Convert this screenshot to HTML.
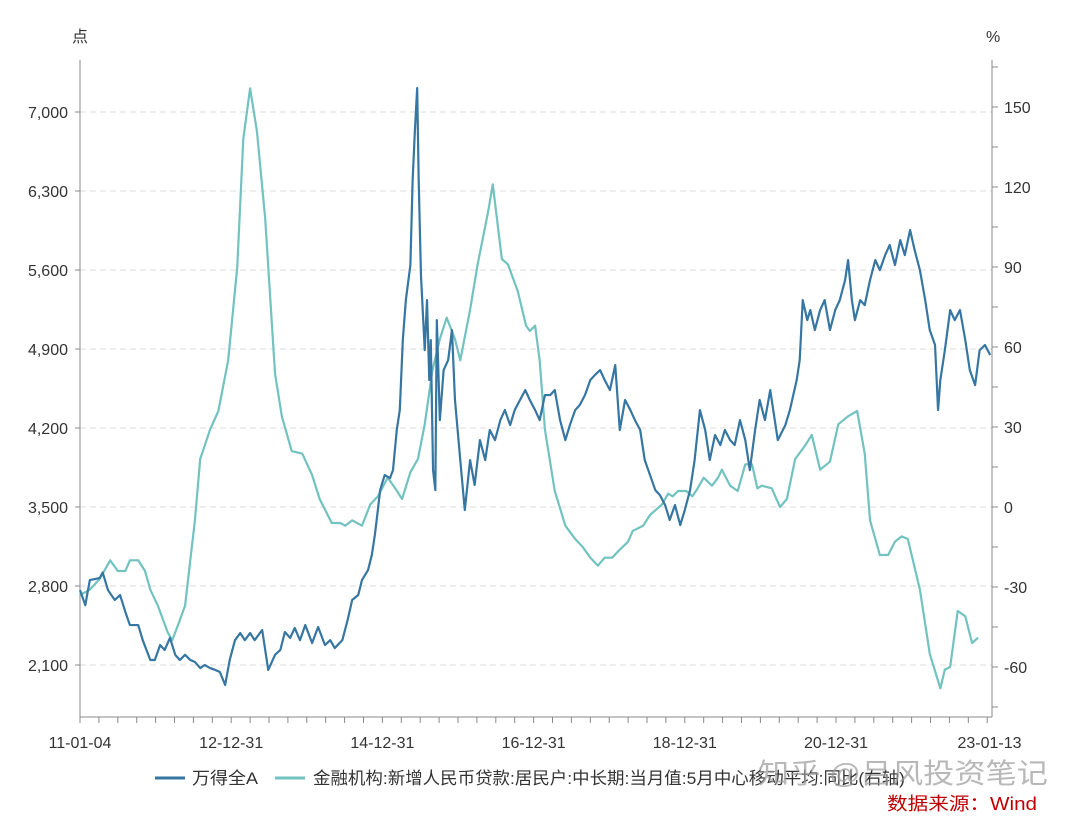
<!DOCTYPE html>
<html><head><meta charset="utf-8"><style>
html,body{margin:0;padding:0;background:#fff;}
svg{display:block;font-family:"Liberation Sans","Noto Sans CJK SC",sans-serif;}
</style></head><body>
<svg id="chart" width="1076" height="816" viewBox="0 0 1076 816" xmlns="http://www.w3.org/2000/svg">
<g id="grid"></g>
<g id="axes"></g>
<g id="series"></g>
<text x="72" y="42" font-size="16" fill="#333">点</text>
<text x="986" y="42" font-size="16" fill="#333">%</text>
<g>
<g><line x1="155" y1="778" x2="185" y2="778" stroke="#3676a2" stroke-width="3"/><text x="192" y="784" font-size="17" fill="#333" textLength="66" lengthAdjust="spacingAndGlyphs">万得全A</text></g>
<g><line x1="275" y1="778" x2="305" y2="778" stroke="#72c2c0" stroke-width="3"/><text x="313" y="784" font-size="17" fill="#333" textLength="592" lengthAdjust="spacingAndGlyphs">金融机构:新增人民币贷款:居民户:中长期:当月值:5月中心移动平均:同比(右轴)</text></g>
</g>
<text x="758" y="783" font-size="28" fill="#9a9a9a" fill-opacity="0.7" textLength="290" lengthAdjust="spacingAndGlyphs">知乎 @吕风投资笔记</text>
<text x="887" y="810" font-size="18" fill="#c00000" textLength="150" lengthAdjust="spacingAndGlyphs">数据来源：Wind</text>
</svg>
<script>
const blueT=[0,.07,.13,.26,.30,.37,.46,.53,.60,.66,.77,.83,.93,.99,1.06,1.12,1.19,1.26,1.32,1.39,1.46,1.52,1.59,1.65,1.72,1.79,1.85,1.92,1.98,2.05,2.12,2.18,2.25,2.31,2.41,2.49,2.58,2.65,2.71,2.78,2.84,2.91,2.98,3.07,3.15,3.24,3.31,3.37,3.47,3.54,3.60,3.68,3.73,3.81,3.86,3.90,3.94,3.97,4.03,4.10,4.14,4.19,4.23,4.27,4.31,4.37,4.40,4.43,4.46,4.48,4.51,4.54,4.56,4.59,4.62,4.64,4.67,4.70,4.72,4.76,4.81,4.87,4.92,4.96,5.03,5.09,5.16,5.22,5.29,5.36,5.42,5.49,5.56,5.62,5.69,5.75,5.82,5.89,5.95,6.02,6.08,6.15,6.22,6.28,6.35,6.42,6.48,6.55,6.61,6.68,6.75,6.81,6.88,6.94,7.01,7.08,7.14,7.21,7.28,7.34,7.41,7.47,7.54,7.61,7.67,7.74,7.80,7.87,7.94,8.00,8.07,8.13,8.20,8.27,8.33,8.40,8.47,8.53,8.60,8.66,8.73,8.80,8.86,8.93,8.99,9.06,9.13,9.19,9.23,9.33,9.39,9.48,9.52,9.56,9.62,9.66,9.72,9.79,9.85,9.92,9.99,10.05,10.12,10.16,10.21,10.25,10.32,10.38,10.45,10.52,10.58,10.65,10.71,10.78,10.85,10.91,10.98,11.04,11.11,11.18,11.24,11.31,11.35,11.38,11.44,11.51,11.57,11.64,11.71,11.77,11.84,11.90,11.97,12.04];
const blueV=[2764,2630,2853,2870,2920,2764,2676,2720,2570,2454,2454,2320,2144,2144,2277,2233,2340,2190,2144,2190,2144,2127,2073,2100,2073,2056,2038,1923,2144,2320,2383,2320,2383,2320,2410,2056,2190,2233,2392,2340,2428,2320,2454,2295,2437,2277,2320,2250,2320,2499,2676,2720,2853,2941,3074,3252,3473,3650,3783,3756,3827,4182,4359,4979,5333,5644,6397,6840,7212,6397,5555,5156,4890,5333,4625,4979,3827,3650,5156,4270,4713,4802,5068,4448,3916,3473,3916,3695,4093,3916,4182,4093,4270,4359,4226,4359,4448,4536,4448,4359,4270,4492,4492,4536,4270,4093,4226,4359,4403,4492,4625,4669,4713,4625,4536,4758,4182,4448,4359,4270,4182,3916,3783,3650,3606,3517,3385,3517,3340,3473,3650,3916,4359,4182,3916,4138,4049,4182,4093,4049,4270,4093,3827,4182,4448,4270,4536,4270,4093,4226,4359,4625,4802,5333,5156,5245,5068,5245,5333,5068,5245,5333,5510,5688,5333,5156,5333,5289,5510,5688,5599,5732,5821,5644,5865,5732,5954,5777,5599,5333,5068,4935,4359,4625,4890,5245,5156,5245,4979,4713,4580,4890,4935,4847];
const greenT=[0,.13,.26,.40,.50,.60,.66,.77,.86,.93,1.03,1.16,1.22,1.30,1.39,1.43,1.52,1.59,1.72,1.83,1.96,2.08,2.16,2.25,2.34,2.45,2.58,2.67,2.80,2.94,3.07,3.17,3.33,3.44,3.51,3.60,3.73,3.84,3.94,4.07,4.17,4.26,4.37,4.47,4.56,4.66,4.76,4.85,4.96,5.03,5.16,5.26,5.40,5.46,5.58,5.66,5.79,5.90,5.95,6.02,6.08,6.15,6.28,6.42,6.55,6.65,6.75,6.85,6.94,7.04,7.14,7.25,7.31,7.45,7.54,7.70,7.78,7.84,7.91,8.02,8.10,8.17,8.25,8.36,8.44,8.49,8.60,8.70,8.80,8.89,8.96,9.02,9.15,9.26,9.35,9.46,9.59,9.68,9.79,9.92,10.03,10.16,10.28,10.38,10.45,10.58,10.69,10.78,10.87,10.95,11.11,11.24,11.38,11.44,11.51,11.61,11.71,11.80,11.88];
const greenV=[-33,-31,-27,-20,-24,-24,-20,-20,-24,-31,-37,-47,-50,-44,-37,-27,-5,18,29,36,55,90,138,157,141,108,50,34,21,20,12,3,-6,-6,-7,-5,-7,1,4,11,7,3,13,18,31,51,63,71,63,55,74,91,111,121,93,91,81,68,66,68,55,29,6,-7,-12,-15,-19,-22,-19,-19,-16,-13,-9,-7,-3,1,5,4,6,6,4,7,11,8,11,14,8,6,16,16,7,8,7,0,3,18,23,27,14,17,31,34,36,20,-5,-18,-18,-13,-11,-12,-31,-55,-68,-61,-60,-39,-41,-51,-49];
const leftTicks=[2100,2800,3500,4200,4900,5600,6300,7000];
const rightTicks=[-60,-30,0,30,60,90,120,150];
const xLabels=["11-01-04","12-12-31","14-12-31","16-12-31","18-12-31","20-12-31","23-01-13"];
const xLabelT=[0,2.0,4.0,6.0,8.0,10.0,12.03];

const L=80,R=992,T=60,B=717;
const xS=t=>L+t*75.6;
const yL=v=>665-(v-2100)*79/700;
const yR=v=>507-v*80/30;
const NS='http://www.w3.org/2000/svg';
function mk(tag,attrs,parent){const e=document.createElementNS(NS,tag);for(const k in attrs)e.setAttribute(k,attrs[k]);parent.appendChild(e);return e;}
const grid=document.getElementById('grid'),axes=document.getElementById('axes'),ser=document.getElementById('series');

leftTicks.forEach((v,i)=>{
  const y=yL(v);
  const g=mk('line',{x1:L,x2:R,y1:y,y2:y,stroke:'#ddd','stroke-dasharray':'6,4'},grid);
  
  
  const t=mk('text',{x:68,y:y+6,'text-anchor':'end','font-size':16,fill:'#333'},axes);
  t.textContent=v.toLocaleString('en-US');
  
  
  mk('line',{x1:L-5,x2:L,y1:y,y2:y,stroke:'#888'},axes);
});
rightTicks.forEach(v=>{
  const y=yR(v);
  const t=mk('text',{x:1004,y:y+6,'font-size':16,fill:'#333'},axes);
  t.textContent=v;
  
  
});
for(let v=-75;v<=165;v+=15){const y=yR(v);if(y>=T&&y<=B)mk('line',{x1:R,x2:R+6,y1:y,y2:y,stroke:'#888'},axes);}
for(let q=0;q<=48;q++){const x=xS(q/4);mk('line',{x1:x,x2:x,y1:B,y2:B+6,stroke:'#888'},axes);}
xLabels.forEach((s,i)=>{
  const t=mk('text',{x:xS(xLabelT[i]),y:748,'text-anchor':'middle','font-size':16,fill:'#333'},axes);
  t.textContent=s;
  
  
});
mk('line',{x1:L,x2:L,y1:T,y2:B,stroke:'#888'},axes);
mk('line',{x1:R,x2:R,y1:T,y2:B,stroke:'#888'},axes);
mk('line',{x1:L,x2:R,y1:B,y2:B,stroke:'#888'},axes);

const gp=mk('polyline',{points:greenT.map((t,i)=>xS(t)+','+yR(greenV[i])).join(' '),fill:'none',stroke:'#72c2c0','stroke-width':2.2,'stroke-linejoin':'round'},ser);


const bp=mk('polyline',{points:blueT.map((t,i)=>xS(t)+','+yL(blueV[i])).join(' '),fill:'none',stroke:'#3676a2','stroke-width':2.2,'stroke-linejoin':'round'},ser);


</script>
</body></html>
